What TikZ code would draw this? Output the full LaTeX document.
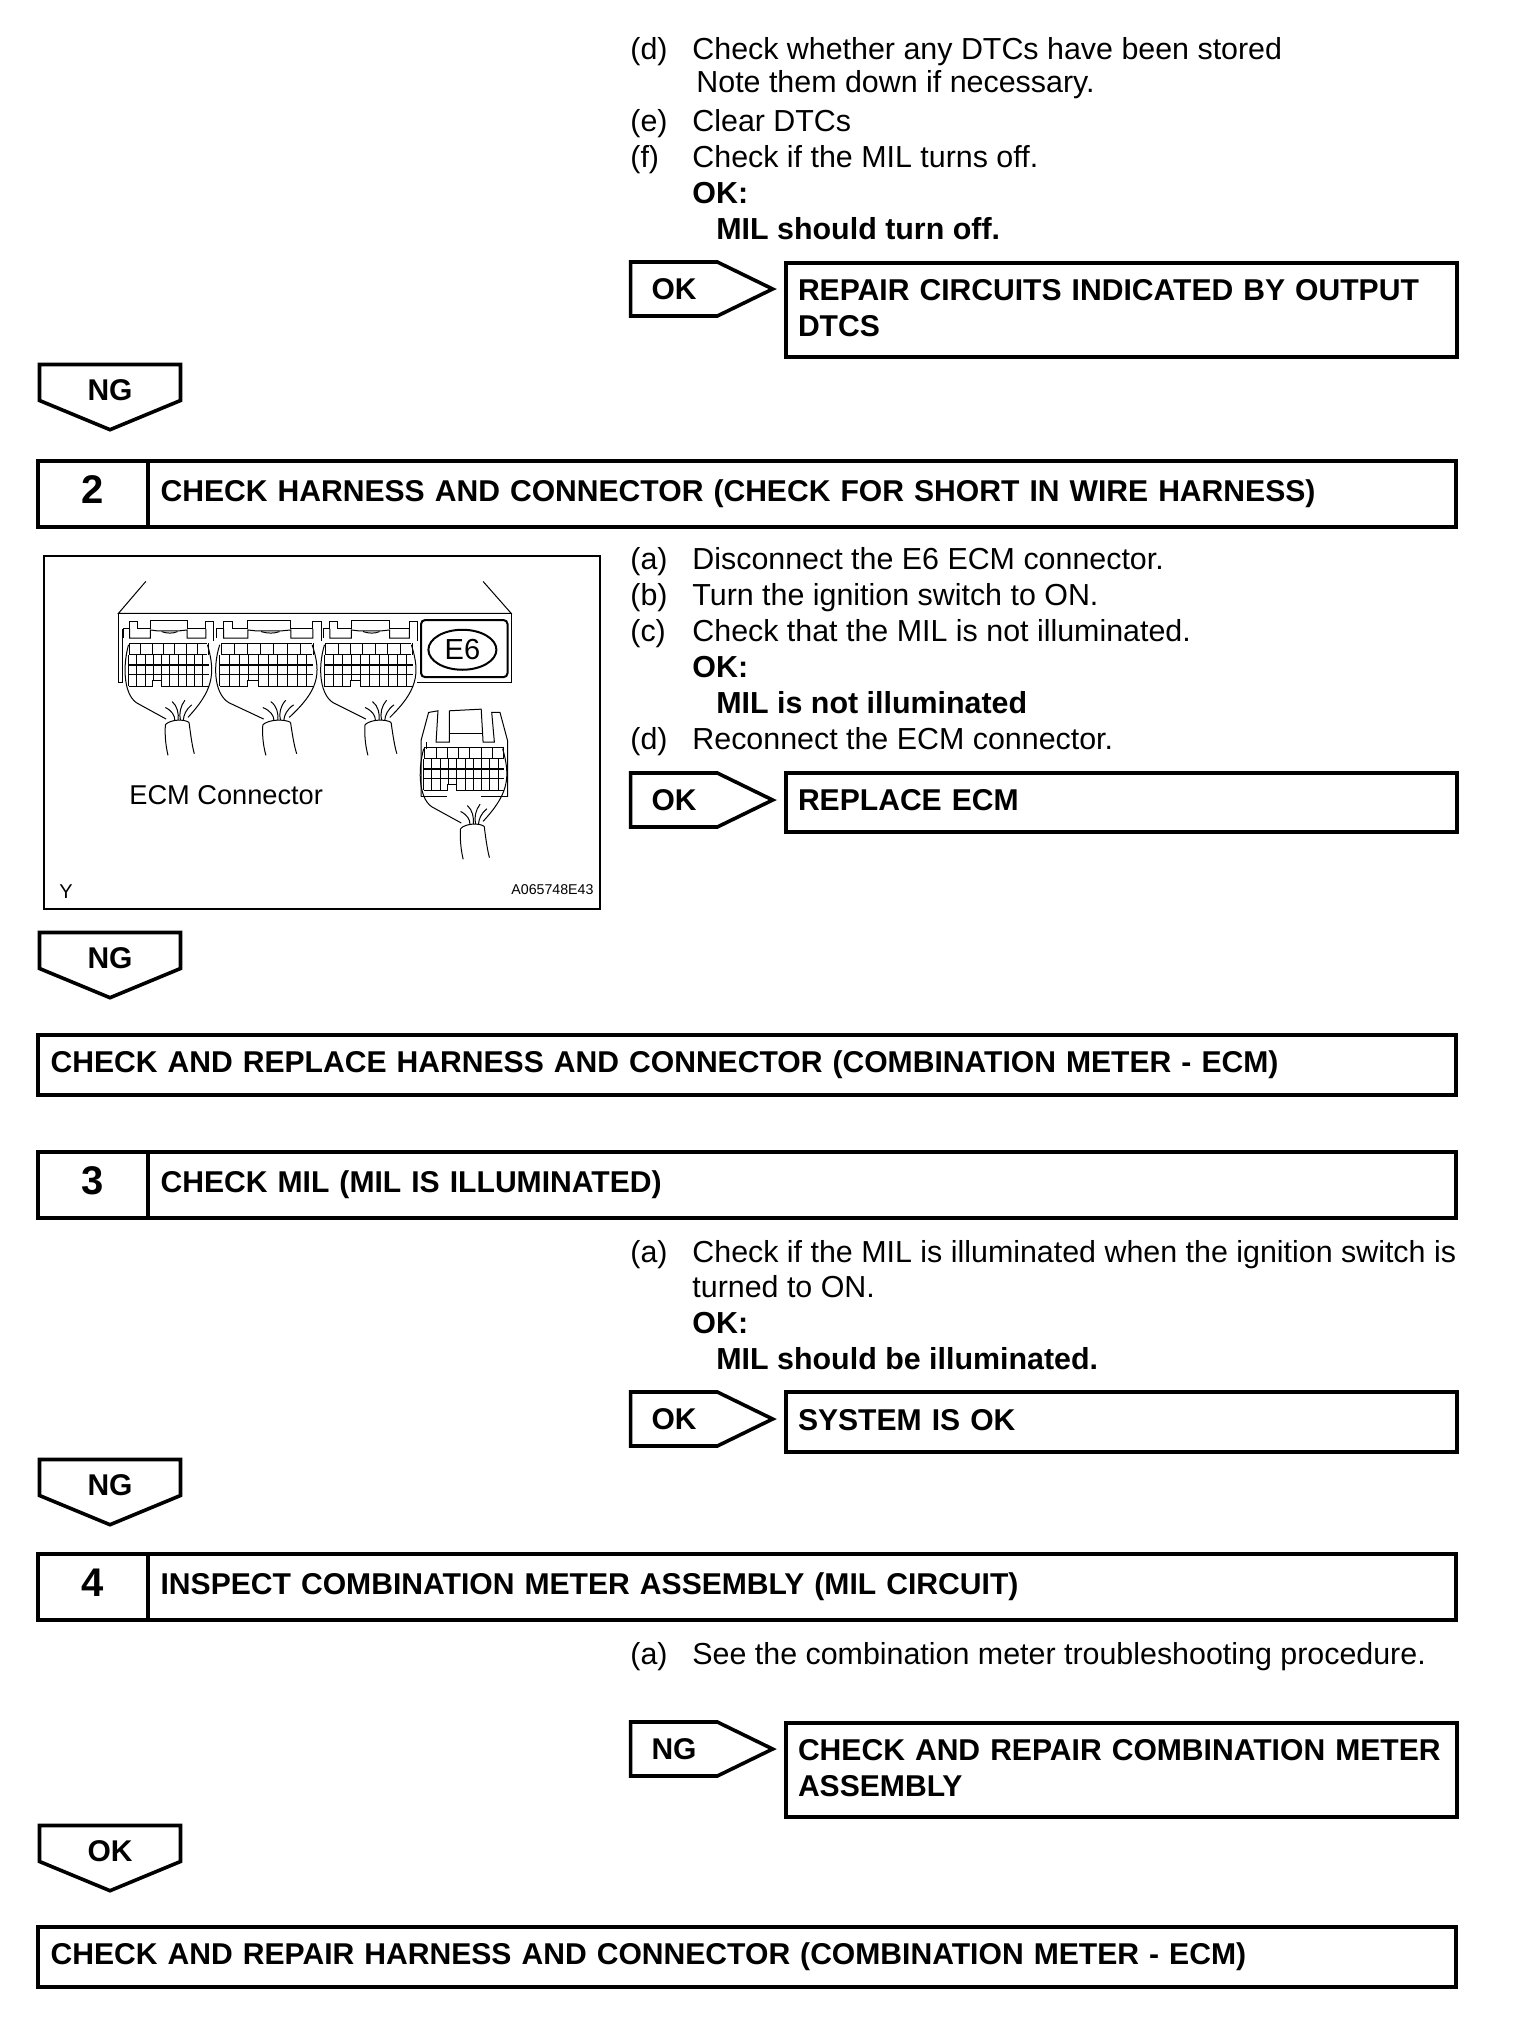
\documentclass[tikz,border=0pt]{standalone}
\usepackage{fontspec}
\setmainfont{Liberation Sans}
\usetikzlibrary{positioning}
\usetikzlibrary{shapes.geometric}
\usetikzlibrary{shapes.symbols}
\tikzset{
  ecmplug/.pic={
    \foreach \gx in {265,295,...,475} \draw (\gx,305) -- (\gx,340);
    \foreach \gy in {305,340} \draw (265,\gy) -- (472,\gy);
    \foreach \gx in {262,284,...,475} \draw (\gx,342) -- (\gx,435);
    \foreach \gy in {400,435} \draw (262,\gy) -- (475,\gy);
    \draw[line width=1pt] (262,372) -- (475,372);
    \fill[white] (326,420) rectangle (349,440);
    \draw (305,435) -- (325,435) -- (325,418) -- (350,418) -- (350,435) -- (370,435);
    \draw (262,310) .. controls (245,380) and (250,470) .. (290,490) -- (362,535);
    \draw (472,310) .. controls (495,400) and (485,450) .. (420,530);
    \draw (360,500) .. controls (378,510) and (385,525) .. (385,538);
    \draw (378,482) .. controls (392,495) and (396,520) .. (394,538);
    \draw (412,478) .. controls (400,495) and (396,520) .. (400,538);
    \draw (430,492) .. controls (415,505) and (408,525) .. (408,538);
    \draw (360,552) .. controls (375,535) and (410,535) .. (423,545);
    \draw (360,552) .. controls (358,590) and (362,620) .. (367,645);
    \draw (423,545) .. controls (428,590) and (432,620) .. (437,640);
  },
  ecmlatch/.pic={
    \draw (248,290) -- (248,262) -- (265,262) -- (265,240) -- (285,240) -- (285,262)
      -- (320,262) -- (320,237) -- (418,237) -- (418,262) -- (468,262) -- (468,240)
      -- (488,240) -- (488,298);
    \draw (265,262) -- (265,290) -- (320,290) -- (320,265) -- (340,268) -- (395,268)
      -- (418,265) -- (418,290) -- (468,290) -- (468,262);
    \draw (350,270) .. controls (365,276) and (380,276) .. (392,270);
  }
}
\begin{document}
\begin{tikzpicture}[
  x=0.5pt, y=-0.5pt,
  item/.style={anchor=base west, inner sep=0pt, yshift=0.2pt, font=\fontsize{15.2}{18}\selectfont},
  itembf/.style={item, font=\fontsize{15.2}{18}\selectfont\bfseries},
  stepnum/.style={draw, line width=2pt, outer sep=0pt, minimum width=55pt,
    minimum height=33pt, inner sep=0pt, text depth=4pt, font=\fontsize{20}{24}\selectfont\bfseries},
  steptitle/.style={draw, line width=2pt, outer sep=0pt, minimum width=654pt,
    minimum height=33pt, text width=641.4pt, inner xsep=6.3pt, inner ysep=0pt, align=left,
    font=\fontsize{15.05}{18}\selectfont\bfseries},
  finalbar/.style={steptitle, minimum width=709pt, minimum height=30pt, text width=696.4pt},
  resultbox/.style={draw, line width=1.8pt, outer sep=0pt, text width=323.5pt,
    inner xsep=6pt, inner ysep=0pt, text depth=2.5pt, minimum height=#1, align=left,
    font=\fontsize{15.05}{18}\selectfont\bfseries},
  tagright/.style={draw, line width=1.8pt, signal, signal to=east, signal pointer angle=52,
    minimum width=71pt, minimum height=27pt, inner sep=0pt,
    font=\fontsize{15}{18}\selectfont\bfseries},
  tagdown/.style={draw, line width=1.8pt, signal, signal to=south, signal pointer angle=135,
    minimum width=70.5pt, minimum height=21.5pt, inner sep=0pt, text height=18pt, text depth=0pt,
    font=\fontsize{15}{18}\selectfont\bfseries}
]
\useasboundingbox (0,0) rectangle (1520,2020);

\node[item] (d1) at (630,60) {(d)};
\node[item] (d1t) at (692,60) {Check whether any DTCs have been stored};
\node[item] (d2t) at (696,93) {Note them down if necessary.};
\node[item] (e1) at (630,132) {(e)};
\node[item] (e1t) at (692,132) {Clear DTCs};
\node[item] (f1) at (630,168) {(f)};
\node[item] (f1t) at (692,168) {Check if the MIL turns off.};
\node[itembf] (f2t) at (692,204) {OK:};
\node[itembf] (f3t) at (716,240) {MIL should turn off.};
\node[tagright] (tag1) at (674,289) {OK};
\node[resultbox=47pt, text depth=20.5pt] (res1) at (1121.5,310) {REPAIR CIRCUITS INDICATED BY OUTPUT\\DTCS};
\node[tagdown] (ng1) at (110,382.5) {NG};

\node[stepnum] (num2) at (93,493.5) {2};
\node[steptitle, right=0pt of num2] (title2) {CHECK HARNESS AND CONNECTOR (CHECK FOR SHORT IN WIRE HARNESS)};

\draw[line width=1pt] (44,556) rectangle (600,909);
\begin{scope}[shift={(30,542.5)}, x=0.188pt, y=-0.165pt, line width=0.5pt]
  \draw (308,118) -- (235,215) -- (1280,215) -- (1205,118);
  \draw (235,215) -- (235,425) -- (245,425) -- (245,262);
  \draw (1030,425) -- (1280,425) -- (1280,215);
  \draw[line width=1pt, rounded corners=2pt] (1040,235) rectangle (1270,408);
  \node[draw, line width=1pt, ellipse, minimum width=34pt, minimum height=20pt, inner sep=0pt,
    font=\fontsize{14.5}{18}\selectfont] (e6) at (1150,325) {E6};
  \pic (plug1) at (0,0) {ecmplug};
  \pic[xscale=1.17] (plug2) at (198,0) {ecmplug};
  \pic[xscale=1.1] (plug3) at (495,0) {ecmplug};
  \pic (latch1) at (0,0) {ecmlatch};
  \pic[xscale=1.167] (latch2) at (206,0) {ecmlatch};
  \pic[xscale=1.04] (latch3) at (522,0) {ecmlatch};
  \pic (plug4) at (785,315) {ecmplug};
  \draw (1040,770) -- (1040,600) -- (1060,515) -- (1085,510) -- (1080,605) -- (1115,605)
    -- (1115,510) -- (1200,505) -- (1205,605) -- (1235,605) -- (1228,515) -- (1250,515)
    -- (1270,600) -- (1270,770);
  \draw (1115,580) -- (1205,580);
  \draw (1055,605) -- (1055,625);
  \draw (1040,770) -- (1110,770);
  \draw (1200,770) -- (1270,770);
\end{scope}
\node[item, font=\fontsize{13.6}{16}\selectfont] (ecmlabel) at (129,805) {ECM Connector};
\node[item, font=\fontsize{10}{12}\selectfont] (figy) at (59,899) {Y};
\node[item, font=\fontsize{7.1}{9}\selectfont] (figid) at (511,895) {A065748E43};

\node[item] (a2) at (630,570) {(a)};
\node[item] (a2t) at (692,570) {Disconnect the E6 ECM connector.};
\node[item] (b2) at (630,606) {(b)};
\node[item] (b2t) at (692,606) {Turn the ignition switch to ON.};
\node[item] (c2) at (630,642) {(c)};
\node[item] (c2t) at (692,642) {Check that the MIL is not illuminated.};
\node[itembf] (c3t) at (692,678) {OK:};
\node[itembf] (c4t) at (716,714) {MIL is not illuminated};
\node[item] (d3) at (630,750) {(d)};
\node[item] (d3t) at (692,750) {Reconnect the ECM connector.};
\node[tagright] (tag2) at (674,800) {OK};
\node[resultbox=29.5pt] (res2) at (1121.5,802.5) {REPLACE ECM};
\node[tagdown] (ng2) at (110,950.5) {NG};
\node[finalbar] (bar2) at (747,1064.5) {CHECK AND REPLACE HARNESS AND CONNECTOR (COMBINATION METER - ECM)};

\node[stepnum] (num3) at (93,1184.5) {3};
\node[steptitle, right=0pt of num3] (title3) {CHECK MIL (MIL IS ILLUMINATED)};
\node[item] (a3) at (630,1263) {(a)};
\node[item] (a3t) at (692,1263) {Check if the MIL is illuminated when the ignition switch is};
\node[item] (a4t) at (692,1298) {turned to ON.};
\node[itembf] (a5t) at (692,1334) {OK:};
\node[itembf] (a6t) at (716,1370) {MIL should be illuminated.};
\node[tagright] (tag3) at (674,1419) {OK};
\node[resultbox=30pt] (res3) at (1121.5,1422) {SYSTEM IS OK};
\node[tagdown] (ng3) at (110,1477.5) {NG};

\node[stepnum] (num4) at (93,1587) {4};
\node[steptitle, right=0pt of num4] (title4) {INSPECT COMBINATION METER ASSEMBLY (MIL CIRCUIT)};
\node[item] (a7) at (630,1665) {(a)};
\node[item] (a7t) at (692,1665) {See the combination meter troubleshooting procedure.};
\node[tagright] (tag4) at (674,1749) {NG};
\node[resultbox=47pt, text depth=20.5pt] (res4) at (1121.5,1770) {CHECK AND REPAIR COMBINATION METER\\ASSEMBLY};
\node[tagdown] (ok4) at (110,1843.5) {OK};
\node[finalbar] (bar4) at (747,1957) {CHECK AND REPAIR HARNESS AND CONNECTOR (COMBINATION METER - ECM)};
\end{tikzpicture}
\end{document}
